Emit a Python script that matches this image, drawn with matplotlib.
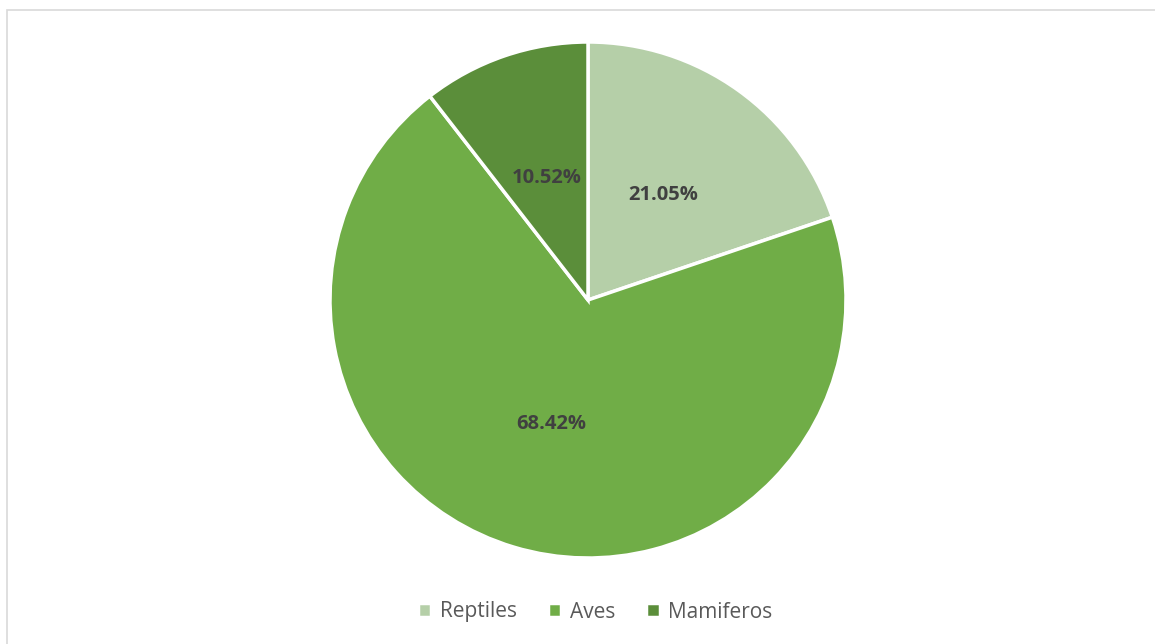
import matplotlib.pyplot as plt
from matplotlib.patches import Rectangle

# data (wedge sizes as drawn, labels as printed on the chart)
categories = ["Reptiles", "Aves", "Mamiferos"]
values = [19.8, 69.7, 10.5]
pct_labels = ["21.05%", "68.42%", "10.52%"]
colors = ["#B5CFA8", "#70AD47", "#5B8E3A"]

plt.rcParams['font.family'] = ['Open Sans', 'DejaVu Sans']

fig = plt.figure(figsize=(11.55, 6.44), dpi=100)
fig.patch.set_facecolor("white")

# chart border (light gray, runs off the right/bottom edge)
fig.patches.append(Rectangle((7 / 1155, -0.1), 1.1, 1.1 - 10 / 644,
                             transform=fig.transFigure, fill=False,
                             edgecolor="#D9D9D9", linewidth=1.2))

ax = fig.add_axes([(588 - 258) / 1155, (644 - 300 - 258) / 644, 516 / 1155, 516 / 644])
wedges, texts = ax.pie(values, labels=pct_labels, colors=colors, startangle=90,
                       counterclock=False, labeldistance=0.5,
                       wedgeprops=dict(edgecolor="white", linewidth=2.5),
                       textprops=dict(color="#404040", fontsize=14.5, fontweight="bold",
                                      ha="center", va="center"))
ax.set_xlim(-1, 1)
ax.set_ylim(-1, 1)
ax.set_aspect("equal")

fig.legend(wedges, categories, loc="center", bbox_to_anchor=(595 / 1155, 1 - 612 / 644),
           ncol=3, frameon=False, fontsize=15, labelcolor="#595959",
           handlelength=0.65, handleheight=0.65, handletextpad=0.4, columnspacing=1.5)

fig.savefig("out.png", dpi=100, facecolor="white")
